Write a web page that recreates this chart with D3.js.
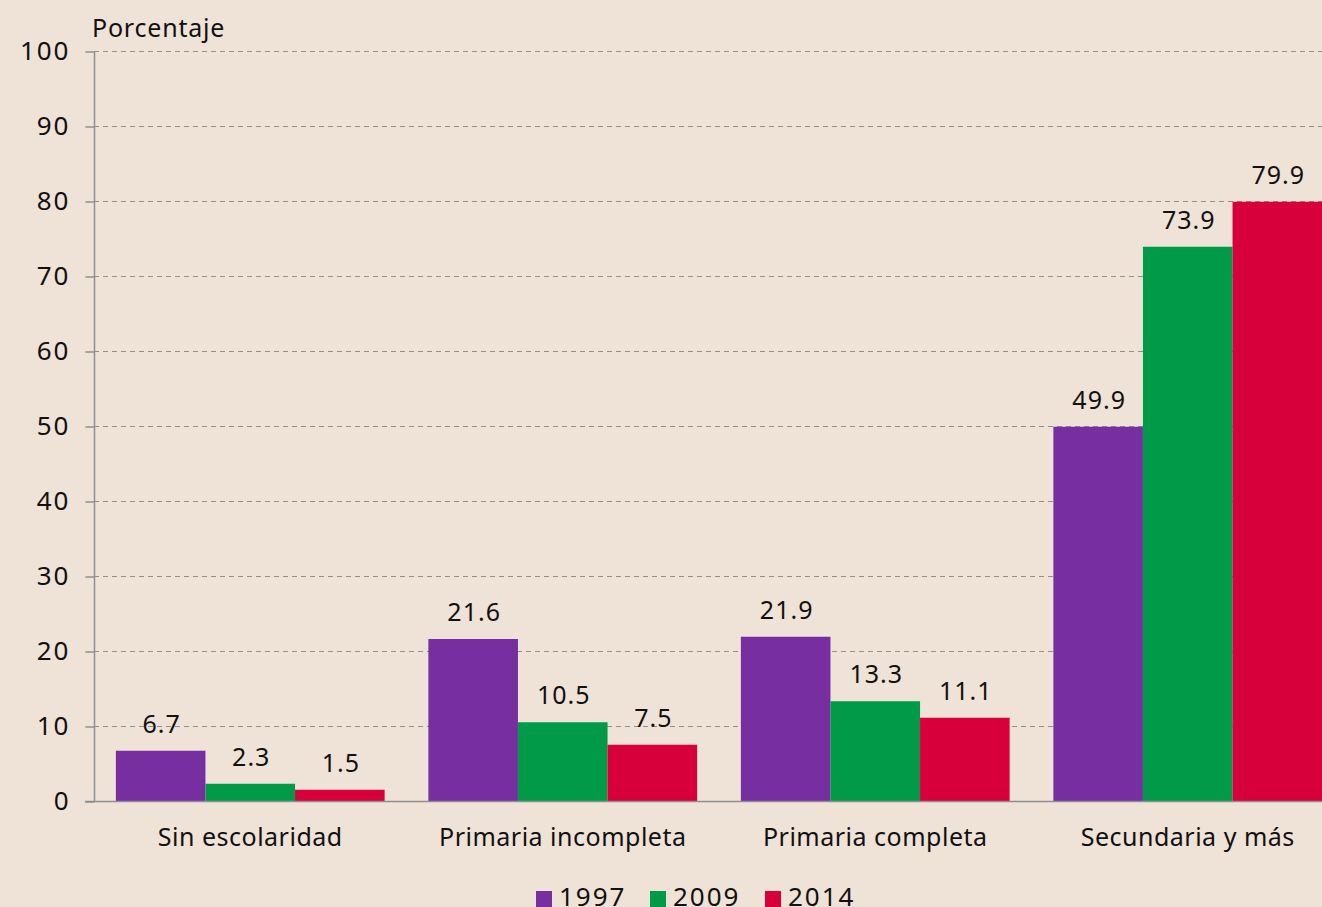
<!DOCTYPE html>
<html>
<head>
<meta charset="utf-8">
<script src="https://cdn.jsdelivr.net/npm/d3@7/dist/d3.min.js"></script>
<style>
  html, body { margin: 0; padding: 0; background: #efe2d6; }
  svg { display: block; font-family: "Noto Sans", sans-serif; }
</style>
</head>
<body>
<svg id="chart" width="1322" height="907"></svg>
<script>
// datos
const categories = ['Sin escolaridad', 'Primaria incompleta', 'Primaria completa', 'Secundaria y más']
const years = ['1997', '2009', '2014']
const values1997 = [6.7, 21.6, 21.9, 49.9]
const values2009 = [2.3, 10.5, 13.3, 73.9]
const values2014 = [1.5, 7.5, 11.1, 79.9]
const yTicks = [0, 10, 20, 30, 40, 50, 60, 70, 80, 90, 100]

const colors = ['#772ea1', '#009a48', '#d7003a']
const series = [values1997, values2009, values2014]

const svg = d3.select('#chart')
const plotLeft = 94, plotTop = 51, plotBottom = 801

let x = d3.scaleBand()
    .domain(categories)
    .range([plotLeft, plotLeft + 4 * 312.5])
    .paddingInner(0.14)
    .paddingOuter(0.07)

let xSub = d3.scaleBand()
    .domain(years)
    .range([0, x.bandwidth()])

let y = d3.scaleLinear()
    .domain([0, 100])
    .range([plotBottom, plotTop])

// grid lines (dashed)
svg.append('g')
    .selectAll('line')
    .data(yTicks.filter(d => d > 0))
    .join('line')
    .attr('x1', plotLeft)
    .attr('x2', 1322)
    .attr('y1', d => y(d) + 0.5)
    .attr('y2', d => y(d) + 0.5)
    .style('stroke', '#8f8f8f')
    .style('stroke-width', 1.2)
    .style('stroke-dasharray', '5,4')

// y axis
let yAxis = d3.axisLeft(y)
    .tickValues(yTicks)
    .tickSize(9)
    .tickPadding(15)

let gy = svg.append('g')
    .attr('transform', 'translate(' + (plotLeft + 0.5) + ',0.5)')
    .call(yAxis)
gy.select('.domain').remove()
gy.selectAll('.tick line').style('stroke', '#8f8f8f').style('stroke-width', 1.5)
gy.selectAll('.tick text')
    .style('font-size', '26px')
    .style('letter-spacing', '2px')
    .style('fill', '#111')
    .style('font-family', '"Noto Sans", sans-serif')

svg.append('line')
    .attr('x1', plotLeft + 0.5).attr('x2', plotLeft + 0.5)
    .attr('y1', plotTop).attr('y2', plotBottom)
    .style('stroke', '#8f8f8f')
    .style('stroke-width', 1.5)

// bars
let groups = svg.append('g')
    .selectAll('g')
    .data(categories)
    .join('g')
    .attr('transform', d => 'translate(' + x(d) + ',0)')

years.forEach(function (yr, i) {
    groups.append('rect')
        .attr('x', xSub(yr))
        .attr('y', (d, j) => y(series[i][j]))
        .attr('width', xSub.bandwidth())
        .attr('height', (d, j) => plotBottom - y(series[i][j]))
        .style('fill', colors[i])

    groups.append('text')
        .attr('x', xSub(yr) + xSub.bandwidth() / 2 + 1)
        .attr('y', (d, j) => y(series[i][j]) - 18)
        .attr('text-anchor', 'middle')
        .style('font-size', '25px')
        .style('letter-spacing', '1px')
        .style('fill', '#111')
        .text((d, j) => series[i][j].toFixed(1))
})

// baseline
svg.append('line')
    .attr('x1', plotLeft - 9).attr('x2', 1322)
    .attr('y1', plotBottom + 0.5).attr('y2', plotBottom + 0.5)
    .style('stroke', '#8f8f8f')
    .style('stroke-width', 1.5)

// x labels
svg.append('g')
    .selectAll('text')
    .data(categories)
    .join('text')
    .attr('x', d => x(d) + x.bandwidth() / 2)
    .attr('y', 846)
    .attr('text-anchor', 'middle')
    .style('font-size', '25px')
    .style('letter-spacing', '0.5px')
    .style('fill', '#111')
    .text(d => d)

// y title
svg.append('text')
    .attr('x', 92)
    .attr('y', 37)
    .style('font-size', '25px')
    .style('letter-spacing', '0.8px')
    .style('fill', '#111')
    .text('Porcentaje')

// legend
const legendX = [536, 650, 765]
let legend = svg.append('g')
    .selectAll('g')
    .data(years)
    .join('g')
    .attr('transform', (d, i) => 'translate(' + legendX[i] + ',891)')

legend.append('rect')
    .attr('width', 16)
    .attr('height', 16)
    .style('fill', (d, i) => colors[i])

legend.append('text')
    .attr('x', 23)
    .attr('y', 15)
    .style('font-size', '26px')
    .style('letter-spacing', '2px')
    .style('fill', '#111')
    .text(d => d)
</script>
</body>
</html>
